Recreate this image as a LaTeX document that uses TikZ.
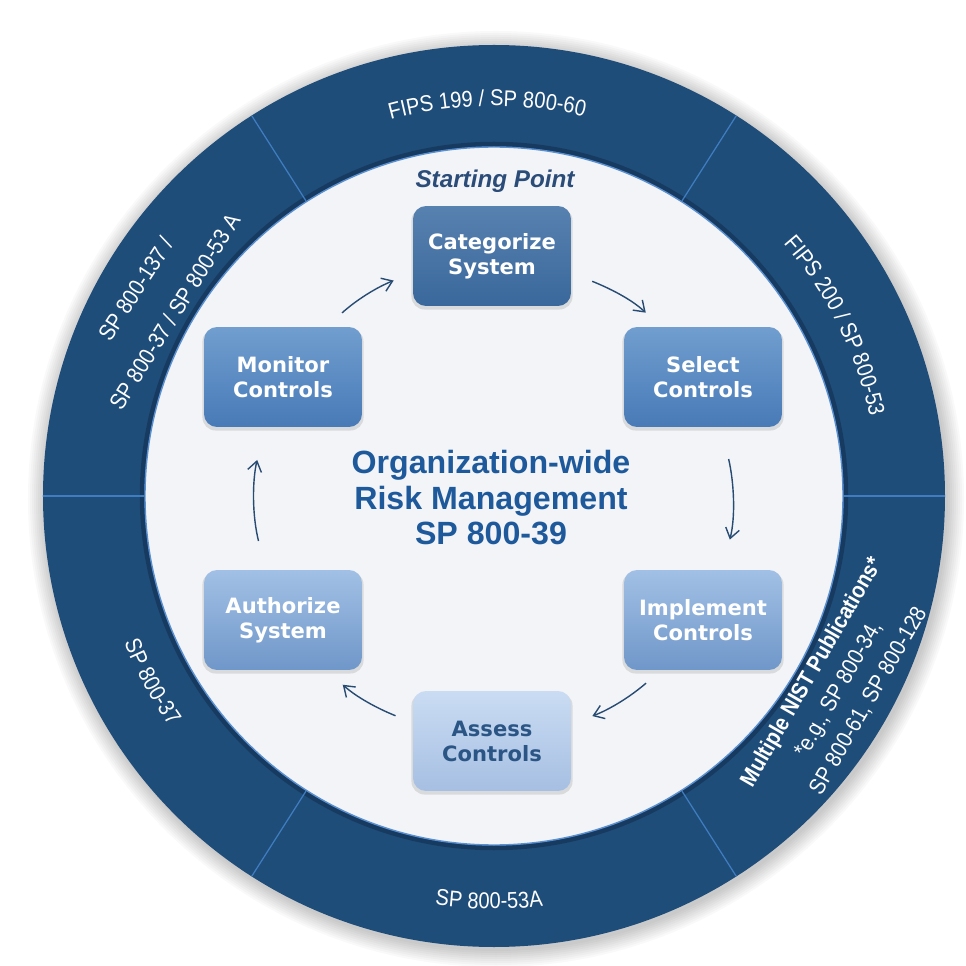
\documentclass[tikz,border=0pt]{standalone}
\usepackage{fontspec}
\usetikzlibrary{arrows.meta,shadows,decorations.text}
\newfontfamily\boxfam{DejaVu Sans}
\newfontfamily\titlefam{Liberation Sans}
\newfontfamily\ringfam{Liberation Sans}[FakeStretch=0.88]
\newcommand\ringfont{\ringfam\fontsize{13pt}{15pt}\selectfont}
\definecolor{ringblue}{HTML}{1F4D7A}
\definecolor{rimdark}{HTML}{173B60}
\definecolor{rimlight}{HTML}{5A8FD0}
\definecolor{divblue}{HTML}{3F7DC0}
\definecolor{innerbg}{HTML}{F2F4F7}
\definecolor{arrowblue}{HTML}{284B73}
\definecolor{titleblue}{HTML}{1E5A9B}
\definecolor{startblue}{HTML}{2B4C78}
\definecolor{catT}{HTML}{5781AF}
\definecolor{catB}{HTML}{3A689C}
\definecolor{midT}{HTML}{719ECF}
\definecolor{midB}{HTML}{487AB7}
\definecolor{lightT}{HTML}{A2C0E5}
\definecolor{lightB}{HTML}{6F97C9}
\definecolor{paleT}{HTML}{CADCF3}
\definecolor{paleB}{HTML}{A6BFE2}
\definecolor{asstext}{HTML}{2A5585}
\tikzset{
  stepbox/.style={rounded corners=0.26cm, minimum width=3.16cm, minimum height=2cm,
    align=center, text=white, font=\boxfam\bfseries\fontsize{12pt}{14.2pt}\selectfont,
    drop shadow={opacity=0.22, shadow xshift=0pt, shadow yshift=-0.05cm, shadow scale=1.02}},
  catbox/.style={stepbox, top color=catT, bottom color=catB},
  midbox/.style={stepbox, top color=midT, bottom color=midB},
  lightbox/.style={stepbox, top color=lightT, bottom color=lightB},
  palebox/.style={stepbox, top color=paleT, bottom color=paleB, text=asstext},
  flow/.style={draw=arrowblue, line width=0.8pt, -{Straight Barb[length=0.2cm, width=0.28cm]}},
  ringtext/.style={text=white, font=\ringfont, inner sep=0pt},
  divider/.style={draw=divblue, line width=0.7pt},
  curved/.style={decorate, decoration={text along path, text color=white, text align=center, text={|\ringfont|#1}}}
}
\begin{document}
\begin{tikzpicture}[x=0.02cm, y=0.02cm]
\useasboundingbox (-494,-470) rectangle (471,496);
\fill[white] (-494,-470) rectangle (471,496);
\foreach \r in {452,454,...,468} \fill[black, opacity=0.025] (2,-3) circle (\r);
\fill[ringblue] (0,0) circle (451);
\draw[rimdark, line width=0.09cm] (0,0) circle (352);
\fill[innerbg] (0,0) circle (349);
\draw[rimlight, line width=0.8pt] (0,0) circle (349);
\foreach \a in {0,57.5,122.5,180,237.5,302.5} \draw[divider] (\a:350) -- (\a:451);

\path[curved={FIPS 199 / SP 800-60}] (131:390) arc[start angle=131, end angle=51, radius=390];
\path[curved={FIPS 200 / SP 800-53}] (66.5:384) arc[start angle=66.5, end angle=-13.5, radius=384];
\path[curved={SP 800-53A}] (-130.7:413) arc[start angle=-130.7, end angle=-50.7, radius=413];
\path[curved={SP 800-37}] (-191.5:398) arc[start angle=-191.5, end angle=-111.5, radius=398];
\node[ringtext, rotate=57] (lblmon1) at (150:414) {SP 800-137 /};
\node[ringtext, rotate=58] (lblmon2) at (150:369) {SP 800-37 / SP 800-53 A};
\node[ringtext, font=\ringfont\bfseries, rotate=60] (lblimp1) at (-29:364) {Multiple NIST Publications*};
\node[ringtext, rotate=60] (lblimp2) at (-29.3:396) {*e.g., SP 800-34,};
\node[ringtext, rotate=60] (lblimp3) at (-28.7:427) {SP 800-61, SP 800-128};

\node[text=startblue, font=\titlefam\bfseries\itshape\fontsize{13.8pt}{16pt}\selectfont, anchor=base] (start) at (1,308) {Starting Point};
\node[text=titleblue, align=center, font=\titlefam\bfseries\fontsize{18.3pt}{20.2pt}\selectfont] (title) at (-3,-2) {Organization-wide\\Risk Management\\SP 800-39};

\node[catbox] (cat) at (-2,240) {Categorize\\System};
\node[midbox] (sel) at (209,119) {Select\\Controls};
\node[lightbox] (imp) at (209,-124) {Implement\\Controls};
\node[palebox] (ass) at (-2,-245) {Assess\\Controls};
\node[lightbox] (aut) at (-211,-124) {Authorize\\System};
\node[midbox] (mon) at (-211,119) {Monitor\\Controls};

\draw[flow, shorten <=0.45cm, shorten >=0.41cm] (cat.-12) to[out=-22, in=137] (sel.130);
\draw[flow, shorten <=0.65cm, shorten >=0.62cm] (sel.-70) to[out=-77, in=76] (imp.69);
\draw[flow, shorten <=0.39cm, shorten >=0.45cm] (imp.-130) to[out=221, in=21] (ass.12);
\draw[flow, shorten <=0.37cm, shorten >=0.43cm] (ass.167) to[out=158, in=-42] (aut.-49);
\draw[flow, shorten <=0.59cm, shorten >=0.67cm] (aut.109) to[out=104, in=-103] (mon.-110);
\draw[flow, shorten <=0.41cm, shorten >=0.41cm] (mon.49) to[out=42, in=-158] (cat.-168);
\end{tikzpicture}
\end{document}
